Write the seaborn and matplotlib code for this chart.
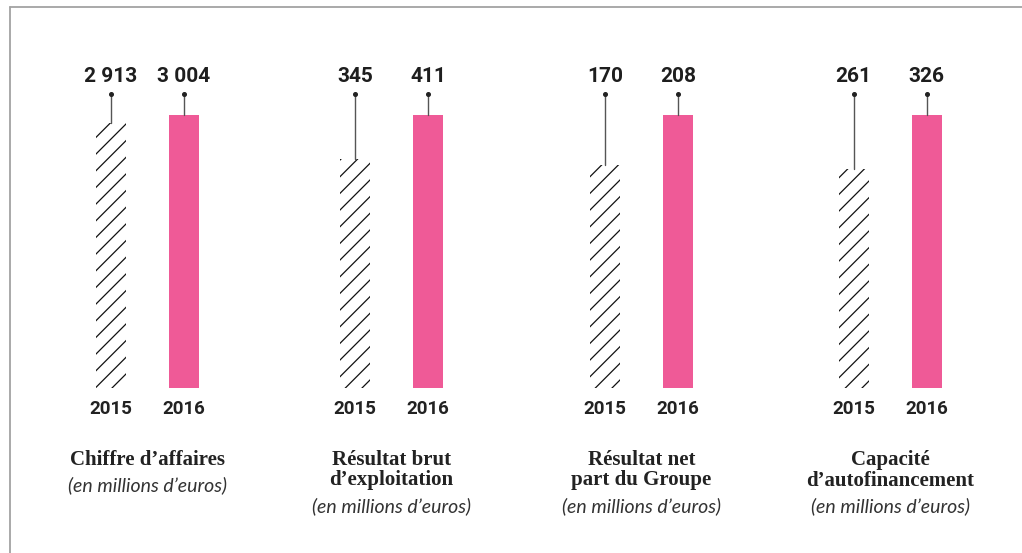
import matplotlib
matplotlib.use("Agg")
import matplotlib.pyplot as plt
import seaborn as sns
from matplotlib.lines import Line2D

# ---- data ----
years = ["2015", "2016"]
titles = [["Chiffre d’affaires"],
          ["Résultat brut", "d’exploitation"],
          ["Résultat net", "part du Groupe"],
          ["Capacité", "d’autofinancement"]]
subtitle = "(en millions d’euros)"
values_2015 = [2913, 345, 170, 261]
values_2016 = [3004, 411, 208, 326]
value_labels_2015 = ["2 913", "345", "170", "261"]
value_labels_2016 = ["3 004", "411", "208", "326"]

PINK = "#EF5A97"
W, H = 1022, 553

sns.set_theme(style="white")
plt.rcParams["hatch.linewidth"] = 0.9
fig = plt.figure(figsize=(W / 100, H / 100), dpi=100)
fig.patch.set_facecolor("white")

# frame lines (top and left)
fig.add_artist(Line2D([10 / W, 1.0], [1 - 7 / H, 1 - 7 / H], color="#a3a3a3", lw=1.3))
fig.add_artist(Line2D([10 / W, 10 / W], [0, 1 - 7 / H], color="#a3a3a3", lw=1.3))

centers0 = [110.5, 355, 605, 853.5]
unit = 73.0
bottom_px, top_px = 388, 115
dot_px, label_px = 94, 77

for k in range(4):
    left = centers0[k] - unit / 2
    ax = fig.add_axes([left / W, 1 - bottom_px / H, 2 * unit / W, (bottom_px - top_px) / H])
    vals = [values_2015[k], values_2016[k]]
    sns.barplot(x=years, y=vals, hue=years, palette=["white", PINK], legend=False,
                saturation=1, width=30 / unit, ax=ax)
    ax.set_xlim(-0.5, 1.5)
    vmax = values_2016[k]
    ax.set_ylim(0, vmax)
    p0, p1 = ax.patches[0], ax.patches[1]
    p0.set_facecolor("white")
    p0.set_edgecolor("#111111")
    p0.set_linewidth(0)
    p0.set_hatch("//")
    p1.set_edgecolor("none")
    p1.set_linewidth(0)
    for s in ax.spines.values():
        s.set_visible(False)
    ax.set_yticks([])
    ax.set_ylabel("")
    ax.set_xlabel("")
    ax.tick_params(axis="x", length=0, pad=9)
    for t in ax.get_xticklabels():
        t.set_fontfamily("Roboto")
        t.set_fontweight("bold")
        t.set_fontsize(13.5)
        t.set_color("#222222")

    scale = vmax / (bottom_px - top_px)
    y_dot = (bottom_px - dot_px) * scale
    y_lab = (bottom_px - label_px) * scale
    labs = [value_labels_2015[k], value_labels_2016[k]]
    for i, v in enumerate(vals):
        ax.plot([i, i], [v, y_dot], color="#555555", lw=1.0, clip_on=False)
        ax.plot([i], [y_dot], marker="o", ms=2.6, color="#222222", clip_on=False)
        ax.text(i, y_lab, labs[i], ha="center", va="center", fontfamily="Roboto",
                fontweight="bold", fontsize=15, color="#1e1e1e", clip_on=False)

    # titles
    cx = (centers0[k] + unit / 2) / W
    y = 460
    for line in titles[k]:
        fig.text(cx, 1 - y / H, line, ha="center", va="center", fontfamily="Liberation Serif",
                 fontweight="bold", fontsize=15, color="#222222")
        y += 20.5
    fig.text(cx, 1 - (y + 5) / H, subtitle, ha="center", va="center", fontfamily="Lato",
             fontstyle="italic", fontweight="normal", fontsize=14, color="#333333")

fig.savefig("out.png", dpi=100, facecolor="white")
